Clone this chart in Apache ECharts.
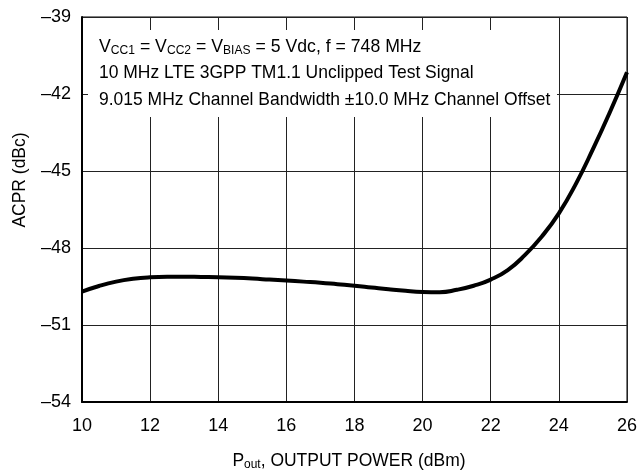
<!DOCTYPE html>
<html>
<head>
<meta charset="utf-8">
<script src="https://cdn.jsdelivr.net/npm/echarts@6/dist/echarts.min.js"></script>
<style>
  html, body { margin: 0; padding: 0; background: #fff; }
  #chart { width: 640px; height: 472px; }
</style>
</head>
<body>
<div id="chart"></div>
<script>
// ACPR vs output power (every 0.5 dBm)
var poutDbm = [10, 10.5, 11, 11.5, 12, 12.5, 13, 13.5, 14, 14.5, 15, 15.5, 16, 16.5, 17, 17.5, 18, 18.5,
  19, 19.5, 20, 20.5, 21, 21.5, 22, 22.5, 23, 23.5, 24, 24.5, 25, 25.5, 26];
var acprDbc = [-49.70, -49.48, -49.31, -49.20, -49.14, -49.12, -49.12, -49.13, -49.14, -49.16, -49.19, -49.23,
  -49.27, -49.31, -49.35, -49.41, -49.47, -49.54, -49.61, -49.67, -49.71, -49.72, -49.63, -49.47, -49.23,
  -48.86, -48.28, -47.55, -46.65, -45.5, -44.15, -42.7, -41.15];

var xTicks = [10, 12, 14, 16, 18, 20, 22, 24, 26];
var yTicks = [-54, -51, -48, -45, -42, -39];

var FONT = "'Liberation Sans', Arial, sans-serif";

var chart = echarts.init(document.getElementById('chart'));

var points = poutDbm.map(function (x, i) { return [x, acprDbc[i]]; });

// rich styles for subscripts
var rich = {
  n: { fontFamily: FONT, fontSize: 19, color: '#000', verticalAlign: 'top', lineHeight: 22 },
  s: { fontFamily: FONT, fontSize: 13, color: '#000', verticalAlign: 'top', lineHeight: 22, padding: [7, 0, 0, 0] }
};

var option = {
  animation: false,
  backgroundColor: '#fff',
  grid: {
    left: 82, right: 11, top: 17, bottom: 70,
    show: true, borderColor: '#000', borderWidth: 1
  },
  xAxis: {
    type: 'value',
    min: xTicks[0], max: xTicks[xTicks.length - 1], interval: 2,
    axisLine: { show: true, lineStyle: { color: '#000', width: 2 } },
    axisTick: { show: false },
    axisLabel: { color: '#000', fontFamily: FONT, fontSize: 18, margin: 15 },
    splitLine: { show: true, lineStyle: { color: '#222', width: 1 } }
  },
  yAxis: {
    type: 'value',
    min: yTicks[0], max: yTicks[yTicks.length - 1], interval: 3,
    axisLine: { show: true, lineStyle: { color: '#000', width: 2 } },
    axisTick: { show: false },
    axisLabel: {
      color: '#000', fontFamily: FONT, fontSize: 18, margin: 11,
      formatter: function (v) { return v < 0 ? '\u2013' + Math.abs(v) : String(v); }
    },
    splitLine: { show: true, lineStyle: { color: '#222', width: 1 } }
  },
  graphic: [
    { type: 'rect', z: 50, shape: { x: 88, y: 30, width: 469, height: 87 }, style: { fill: '#fff' } },
    { type: 'text', z: 51, x: 99, y: 37, scaleX: 0.93, style: {
      text: '{n|V}{s|CC1}{n| = V}{s|CC2}{n| = V}{s|BIAS}{n| = 5 Vdc, f = 748 MHz}', rich: rich } },
    { type: 'text', z: 51, x: 99, y: 63, scaleX: 0.92, style: {
      text: '{n|10 MHz LTE 3GPP TM1.1 Unclipped Test Signal}', rich: rich } },
    { type: 'text', z: 51, x: 99, y: 90, scaleX: 0.92, style: {
      text: '{n|9.015 MHz Channel Bandwidth \u00b110.0 MHz Channel Offset}', rich: rich } },
    // axis titles
    { type: 'text', z: 51, x: 349, y: 451, scaleX: 0.92, style: {
      text: '{n|P}{s|out}{n|, OUTPUT POWER (dBm)}', rich: rich, align: 'center' } },
    { type: 'text', z: 51, x: 20, y: 180, rotation: Math.PI / 2, scaleX: 0.92, style: {
      text: 'ACPR (dBc)', fontFamily: FONT, fontSize: 19, fill: '#000',
      align: 'center', verticalAlign: 'middle' } }
  ],
  series: [{
    type: 'line',
    data: points,
    smooth: 0.5,
    symbol: 'none',
    lineStyle: { color: '#000', width: 4 },
    z: 60
  }]
};

chart.setOption(option);
</script>
</body>
</html>
